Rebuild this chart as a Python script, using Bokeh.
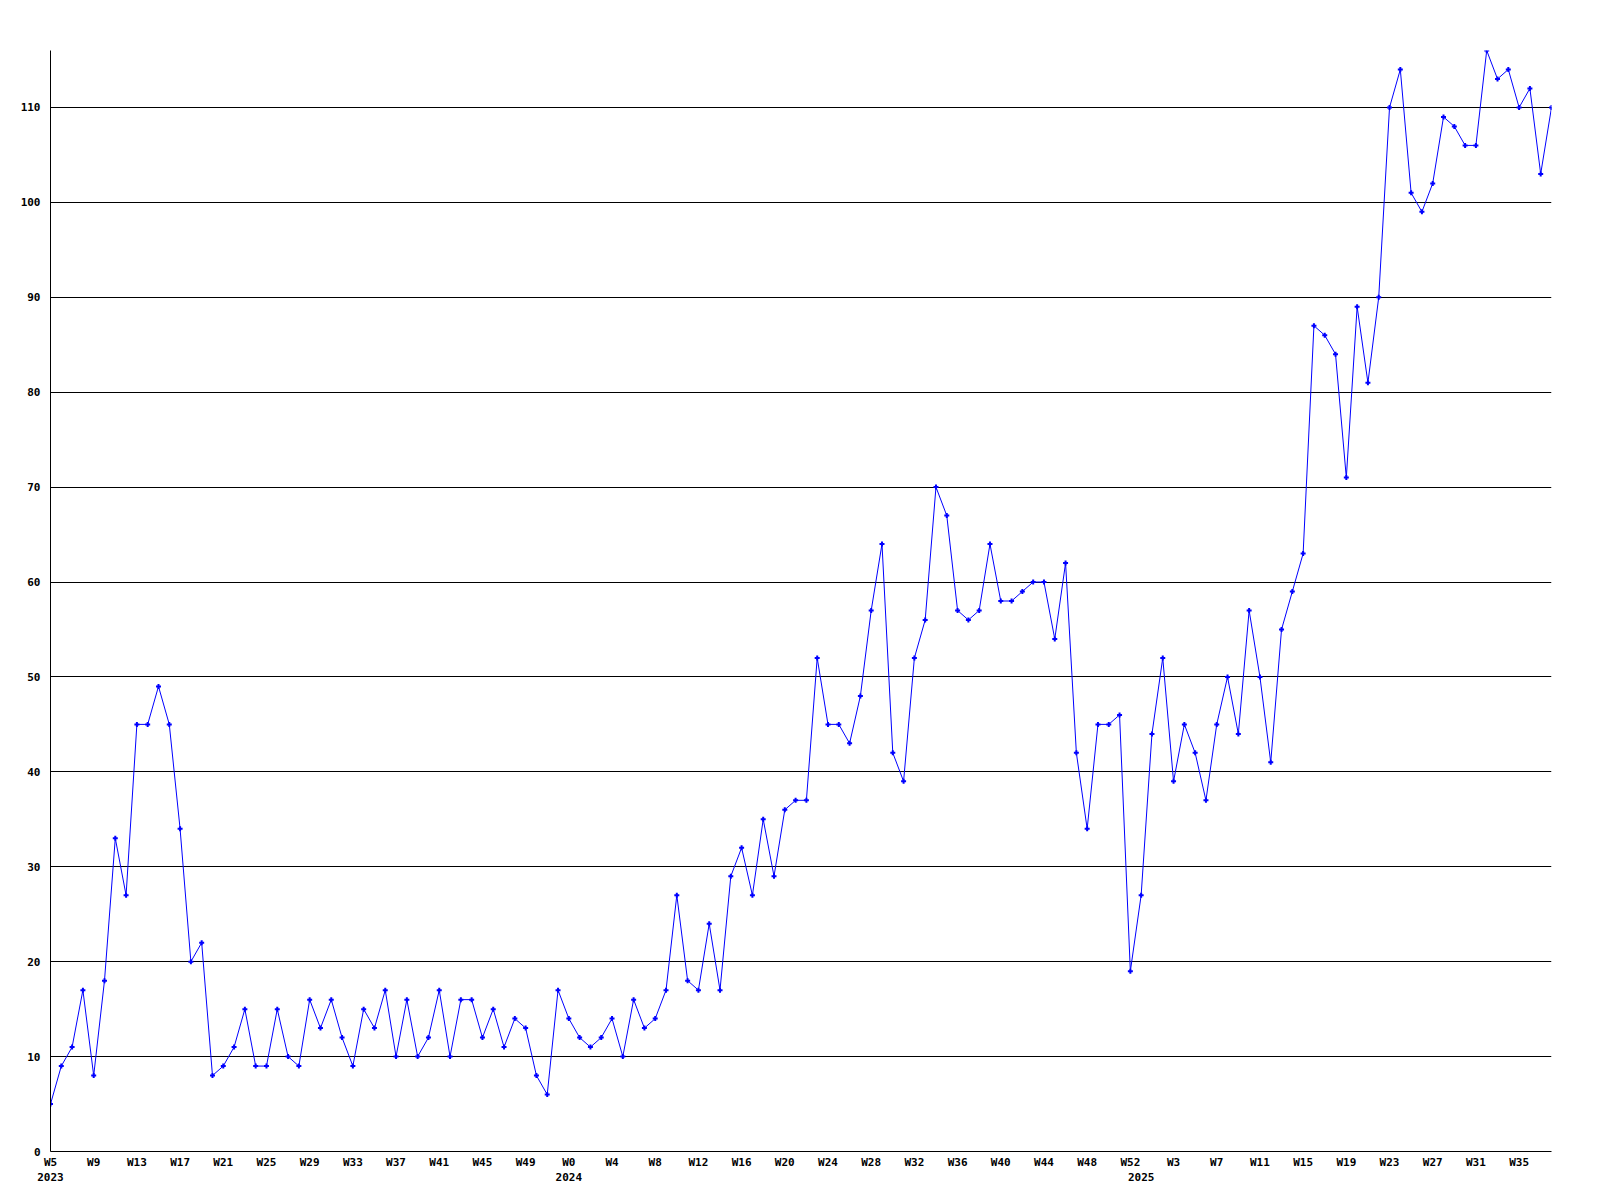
from bokeh.plotting import figure
from bokeh.models import Range1d, FixedTicker, LinearAxis
from bokeh.embed import file_html
from bokeh.resources import INLINE

# Weekly values, one per week, starting 2023 W5
values = [5, 9, 11, 17, 8, 18, 33, 27, 45, 45,
          49, 45, 34, 20, 22, 8, 9, 11, 15, 9,
          9, 15, 10, 9, 16, 13, 16, 12, 9, 15,
          13, 17, 10, 16, 10, 12, 17, 10, 16, 16,
          12, 15, 11, 14, 13, 8, 6, 17, 14, 12,
          11, 12, 14, 10, 16, 13, 14, 17, 27, 18,
          17, 24, 17, 29, 32, 27, 35, 29, 36, 37,
          37, 52, 45, 45, 43, 48, 57, 64, 42, 39,
          52, 56, 70, 67, 57, 56, 57, 64, 58, 58,
          59, 60, 60, 54, 62, 42, 34, 45, 45, 46,
          19, 27, 44, 52, 39, 45, 42, 37, 45, 50,
          44, 57, 50, 41, 55, 59, 63, 87, 86, 84,
          71, 89, 81, 90, 110, 114, 101, 99, 102, 109,
          108, 106, 106, 116, 113, 114, 110, 112, 103, 110]

# week tick labels (one every 4 weeks)
week_labels = ["W5", "W9", "W13", "W17", "W21", "W25", "W29", "W33", "W37", "W41", "W45", "W49",
               "W0", "W4", "W8", "W12", "W16", "W20", "W24", "W28", "W32", "W36", "W40", "W44", "W48", "W52",
               "W3", "W7", "W11", "W15", "W19", "W23", "W27", "W31", "W35"]
week_label_step = 4

# year labels and the week index where each year starts
year_labels = ["2023", "2024", "2025"]
year_start_week = [0, 48, 101]

y_ticks = [0, 10, 20, 30, 40, 50, 60, 70, 80, 90, 100, 110]

x = list(range(len(values)))

FONT = "DejaVu Sans Mono"

p = figure(frame_width=1501, frame_height=1101,
           x_range=Range1d(0, len(values) - 1), y_range=Range1d(0, max(values)),
           output_backend="svg", toolbar_location=None,
           min_border_left=50, min_border_right=33, min_border_top=50, min_border_bottom=0)
p.outline_line_color = None
p.background_fill_color = "white"
p.border_fill_color = "white"

week_ticks = [i * week_label_step for i in range(len(week_labels))]

xa = p.xaxis[0]
xa.ticker = FixedTicker(ticks=week_ticks)
xa.major_label_overrides = {t: lab for t, lab in zip(week_ticks, week_labels)}
xa.major_tick_out = 0
xa.major_tick_in = 0
xa.minor_tick_line_color = None
xa.major_tick_line_color = None
xa.axis_line_color = "black"
xa.axis_line_width = 1
xa.major_label_standoff = 4
xa.major_label_text_font = FONT
xa.major_label_text_font_style = "bold"
xa.major_label_text_font_size = "11px"
xa.major_label_text_color = "black"

ya = p.yaxis[0]
ya.ticker = FixedTicker(ticks=y_ticks)
ya.major_tick_out = 0
ya.major_tick_in = 0
ya.minor_tick_line_color = None
ya.major_tick_line_color = None
ya.axis_line_color = "black"
ya.major_label_standoff = 10
ya.major_label_text_font = FONT
ya.major_label_text_font_style = "bold"
ya.major_label_text_font_size = "11px"
ya.major_label_text_color = "black"

year_axis = LinearAxis(ticker=FixedTicker(ticks=year_start_week),
                       major_label_overrides={t: lab for t, lab in zip(year_start_week, year_labels)})
year_axis.axis_line_color = None
year_axis.major_tick_line_color = None
year_axis.minor_tick_line_color = None
year_axis.major_tick_out = 0
year_axis.major_tick_in = 0
year_axis.major_label_standoff = 1
year_axis.major_label_text_font = FONT
year_axis.major_label_text_font_style = "bold"
year_axis.major_label_text_font_size = "11px"
year_axis.major_label_text_color = "black"
p.add_layout(year_axis, "below")

p.xgrid.grid_line_color = None
p.ygrid.ticker = FixedTicker(ticks=y_ticks)
p.ygrid.grid_line_color = "black"
p.ygrid.grid_line_width = 1

p.line(x, values, line_color="#0000ff", line_width=1)
p.scatter(x, values, marker="cross", size=5, line_width=2, line_color="#0000ff")

open("out.html", "w").write(file_html(p, INLINE))
